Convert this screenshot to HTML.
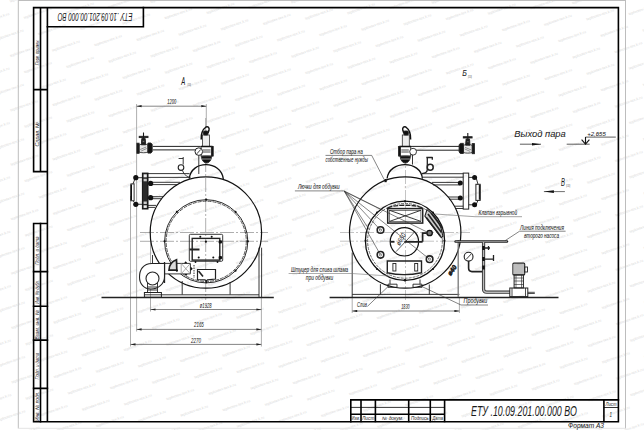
<!DOCTYPE html>
<html><head><meta charset="utf-8">
<style>
html,body{margin:0;padding:0;background:#fff;width:644px;height:430px;overflow:hidden}
svg{display:block}
text{font-family:"Liberation Sans",sans-serif;font-style:italic;fill:#1a1a1a;stroke:#1a1a1a;stroke-width:0.05}
</style></head><body>
<svg width="644" height="430" viewBox="0 0 644 430">
<defs><g id="wm"><text transform="rotate(-19)" x="-14.5" y="1.2" font-size="3.6" textLength="29" lengthAdjust="spacingAndGlyphs" style="fill:#d9d9d9;stroke:none;font-style:normal">teplootex-tex.k.ru</text></g></defs>
<g><use href="#wm" x="-16.6" y="437.4"/><use href="#wm" x="-16.9" y="383.0"/><use href="#wm" x="-2.7" y="399.3"/><use href="#wm" x="11.4" y="415.7"/><use href="#wm" x="25.6" y="432.0"/><use href="#wm" x="-17.1" y="328.5"/><use href="#wm" x="-3.0" y="344.9"/><use href="#wm" x="11.2" y="361.3"/><use href="#wm" x="25.3" y="377.6"/><use href="#wm" x="39.4" y="394.0"/><use href="#wm" x="53.6" y="410.4"/><use href="#wm" x="67.7" y="426.7"/><use href="#wm" x="-17.4" y="274.1"/><use href="#wm" x="-3.2" y="290.5"/><use href="#wm" x="10.9" y="306.9"/><use href="#wm" x="25.0" y="323.2"/><use href="#wm" x="39.2" y="339.6"/><use href="#wm" x="53.3" y="355.9"/><use href="#wm" x="67.5" y="372.3"/><use href="#wm" x="81.6" y="388.7"/><use href="#wm" x="95.7" y="405.0"/><use href="#wm" x="109.9" y="421.4"/><use href="#wm" x="124.0" y="437.8"/><use href="#wm" x="-17.6" y="219.7"/><use href="#wm" x="-3.5" y="236.1"/><use href="#wm" x="10.6" y="252.4"/><use href="#wm" x="24.8" y="268.8"/><use href="#wm" x="38.9" y="285.2"/><use href="#wm" x="53.1" y="301.5"/><use href="#wm" x="67.2" y="317.9"/><use href="#wm" x="81.3" y="334.3"/><use href="#wm" x="95.5" y="350.6"/><use href="#wm" x="109.6" y="367.0"/><use href="#wm" x="123.8" y="383.4"/><use href="#wm" x="137.9" y="399.7"/><use href="#wm" x="152.0" y="416.1"/><use href="#wm" x="166.2" y="432.4"/><use href="#wm" x="-17.9" y="165.3"/><use href="#wm" x="-3.8" y="181.7"/><use href="#wm" x="10.4" y="198.0"/><use href="#wm" x="24.5" y="214.4"/><use href="#wm" x="38.7" y="230.8"/><use href="#wm" x="52.8" y="247.1"/><use href="#wm" x="66.9" y="263.5"/><use href="#wm" x="81.1" y="279.9"/><use href="#wm" x="95.2" y="296.2"/><use href="#wm" x="109.4" y="312.6"/><use href="#wm" x="123.5" y="328.9"/><use href="#wm" x="137.6" y="345.3"/><use href="#wm" x="151.8" y="361.7"/><use href="#wm" x="165.9" y="378.0"/><use href="#wm" x="180.1" y="394.4"/><use href="#wm" x="194.2" y="410.8"/><use href="#wm" x="208.3" y="427.1"/><use href="#wm" x="-18.2" y="110.9"/><use href="#wm" x="-4.0" y="127.3"/><use href="#wm" x="10.1" y="143.6"/><use href="#wm" x="24.3" y="160.0"/><use href="#wm" x="38.4" y="176.3"/><use href="#wm" x="52.5" y="192.7"/><use href="#wm" x="66.7" y="209.1"/><use href="#wm" x="80.8" y="225.4"/><use href="#wm" x="95.0" y="241.8"/><use href="#wm" x="109.1" y="258.2"/><use href="#wm" x="123.2" y="274.5"/><use href="#wm" x="137.4" y="290.9"/><use href="#wm" x="151.5" y="307.3"/><use href="#wm" x="165.7" y="323.6"/><use href="#wm" x="179.8" y="340.0"/><use href="#wm" x="193.9" y="356.4"/><use href="#wm" x="208.1" y="372.7"/><use href="#wm" x="222.2" y="389.1"/><use href="#wm" x="236.4" y="405.4"/><use href="#wm" x="250.5" y="421.8"/><use href="#wm" x="264.6" y="438.2"/><use href="#wm" x="-18.4" y="56.5"/><use href="#wm" x="-4.3" y="72.8"/><use href="#wm" x="9.9" y="89.2"/><use href="#wm" x="24.0" y="105.6"/><use href="#wm" x="38.1" y="121.9"/><use href="#wm" x="52.3" y="138.3"/><use href="#wm" x="66.4" y="154.7"/><use href="#wm" x="80.6" y="171.0"/><use href="#wm" x="94.7" y="187.4"/><use href="#wm" x="108.8" y="203.8"/><use href="#wm" x="123.0" y="220.1"/><use href="#wm" x="137.1" y="236.5"/><use href="#wm" x="151.3" y="252.8"/><use href="#wm" x="165.4" y="269.2"/><use href="#wm" x="179.5" y="285.6"/><use href="#wm" x="193.7" y="301.9"/><use href="#wm" x="207.8" y="318.3"/><use href="#wm" x="222.0" y="334.7"/><use href="#wm" x="236.1" y="351.0"/><use href="#wm" x="250.2" y="367.4"/><use href="#wm" x="264.4" y="383.8"/><use href="#wm" x="278.5" y="400.1"/><use href="#wm" x="292.7" y="416.5"/><use href="#wm" x="306.8" y="432.9"/><use href="#wm" x="-18.7" y="2.1"/><use href="#wm" x="-4.6" y="18.4"/><use href="#wm" x="9.6" y="34.8"/><use href="#wm" x="23.7" y="51.2"/><use href="#wm" x="37.9" y="67.5"/><use href="#wm" x="52.0" y="83.9"/><use href="#wm" x="66.2" y="100.3"/><use href="#wm" x="80.3" y="116.6"/><use href="#wm" x="94.4" y="133.0"/><use href="#wm" x="108.6" y="149.3"/><use href="#wm" x="122.7" y="165.7"/><use href="#wm" x="136.9" y="182.1"/><use href="#wm" x="151.0" y="198.4"/><use href="#wm" x="165.1" y="214.8"/><use href="#wm" x="179.3" y="231.2"/><use href="#wm" x="193.4" y="247.5"/><use href="#wm" x="207.6" y="263.9"/><use href="#wm" x="221.7" y="280.3"/><use href="#wm" x="235.8" y="296.6"/><use href="#wm" x="250.0" y="313.0"/><use href="#wm" x="264.1" y="329.3"/><use href="#wm" x="278.3" y="345.7"/><use href="#wm" x="292.4" y="362.1"/><use href="#wm" x="306.5" y="378.4"/><use href="#wm" x="320.7" y="394.8"/><use href="#wm" x="334.8" y="411.2"/><use href="#wm" x="349.0" y="427.5"/><use href="#wm" x="23.5" y="-3.3"/><use href="#wm" x="37.6" y="13.1"/><use href="#wm" x="51.7" y="29.5"/><use href="#wm" x="65.9" y="45.8"/><use href="#wm" x="80.0" y="62.2"/><use href="#wm" x="94.2" y="78.6"/><use href="#wm" x="108.3" y="94.9"/><use href="#wm" x="122.4" y="111.3"/><use href="#wm" x="136.6" y="127.7"/><use href="#wm" x="150.7" y="144.0"/><use href="#wm" x="164.9" y="160.4"/><use href="#wm" x="179.0" y="176.8"/><use href="#wm" x="193.2" y="193.1"/><use href="#wm" x="207.3" y="209.5"/><use href="#wm" x="221.4" y="225.8"/><use href="#wm" x="235.6" y="242.2"/><use href="#wm" x="249.7" y="258.6"/><use href="#wm" x="263.9" y="274.9"/><use href="#wm" x="278.0" y="291.3"/><use href="#wm" x="292.1" y="307.7"/><use href="#wm" x="306.3" y="324.0"/><use href="#wm" x="320.4" y="340.4"/><use href="#wm" x="334.6" y="356.8"/><use href="#wm" x="348.7" y="373.1"/><use href="#wm" x="362.8" y="389.5"/><use href="#wm" x="377.0" y="405.9"/><use href="#wm" x="391.1" y="422.2"/><use href="#wm" x="405.3" y="438.6"/><use href="#wm" x="65.6" y="-8.6"/><use href="#wm" x="79.8" y="7.8"/><use href="#wm" x="93.9" y="24.2"/><use href="#wm" x="108.0" y="40.5"/><use href="#wm" x="122.2" y="56.9"/><use href="#wm" x="136.3" y="73.2"/><use href="#wm" x="150.5" y="89.6"/><use href="#wm" x="164.6" y="106.0"/><use href="#wm" x="178.7" y="122.3"/><use href="#wm" x="192.9" y="138.7"/><use href="#wm" x="207.0" y="155.1"/><use href="#wm" x="221.2" y="171.4"/><use href="#wm" x="235.3" y="187.8"/><use href="#wm" x="249.4" y="204.2"/><use href="#wm" x="263.6" y="220.5"/><use href="#wm" x="277.7" y="236.9"/><use href="#wm" x="291.9" y="253.3"/><use href="#wm" x="306.0" y="269.6"/><use href="#wm" x="320.2" y="286.0"/><use href="#wm" x="334.3" y="302.3"/><use href="#wm" x="348.4" y="318.7"/><use href="#wm" x="362.6" y="335.1"/><use href="#wm" x="376.7" y="351.4"/><use href="#wm" x="390.9" y="367.8"/><use href="#wm" x="405.0" y="384.2"/><use href="#wm" x="419.1" y="400.5"/><use href="#wm" x="433.3" y="416.9"/><use href="#wm" x="447.4" y="433.3"/><use href="#wm" x="121.9" y="2.5"/><use href="#wm" x="136.1" y="18.8"/><use href="#wm" x="150.2" y="35.2"/><use href="#wm" x="164.3" y="51.6"/><use href="#wm" x="178.5" y="67.9"/><use href="#wm" x="192.6" y="84.3"/><use href="#wm" x="206.8" y="100.7"/><use href="#wm" x="220.9" y="117.0"/><use href="#wm" x="235.0" y="133.4"/><use href="#wm" x="249.2" y="149.7"/><use href="#wm" x="263.3" y="166.1"/><use href="#wm" x="277.5" y="182.5"/><use href="#wm" x="291.6" y="198.8"/><use href="#wm" x="305.7" y="215.2"/><use href="#wm" x="319.9" y="231.6"/><use href="#wm" x="334.0" y="247.9"/><use href="#wm" x="348.2" y="264.3"/><use href="#wm" x="362.3" y="280.7"/><use href="#wm" x="376.4" y="297.0"/><use href="#wm" x="390.6" y="313.4"/><use href="#wm" x="404.7" y="329.8"/><use href="#wm" x="418.9" y="346.1"/><use href="#wm" x="433.0" y="362.5"/><use href="#wm" x="447.2" y="378.8"/><use href="#wm" x="461.3" y="395.2"/><use href="#wm" x="475.4" y="411.6"/><use href="#wm" x="489.6" y="427.9"/><use href="#wm" x="164.1" y="-2.8"/><use href="#wm" x="178.2" y="13.5"/><use href="#wm" x="192.4" y="29.9"/><use href="#wm" x="206.5" y="46.2"/><use href="#wm" x="220.6" y="62.6"/><use href="#wm" x="234.8" y="79.0"/><use href="#wm" x="248.9" y="95.3"/><use href="#wm" x="263.1" y="111.7"/><use href="#wm" x="277.2" y="128.1"/><use href="#wm" x="291.3" y="144.4"/><use href="#wm" x="305.5" y="160.8"/><use href="#wm" x="319.6" y="177.2"/><use href="#wm" x="333.8" y="193.5"/><use href="#wm" x="347.9" y="209.9"/><use href="#wm" x="362.0" y="226.2"/><use href="#wm" x="376.2" y="242.6"/><use href="#wm" x="390.3" y="259.0"/><use href="#wm" x="404.5" y="275.3"/><use href="#wm" x="418.6" y="291.7"/><use href="#wm" x="432.7" y="308.1"/><use href="#wm" x="446.9" y="324.4"/><use href="#wm" x="461.0" y="340.8"/><use href="#wm" x="475.2" y="357.2"/><use href="#wm" x="489.3" y="373.5"/><use href="#wm" x="503.5" y="389.9"/><use href="#wm" x="517.6" y="406.3"/><use href="#wm" x="531.7" y="422.6"/><use href="#wm" x="545.9" y="439.0"/><use href="#wm" x="206.2" y="-8.2"/><use href="#wm" x="220.4" y="8.2"/><use href="#wm" x="234.5" y="24.6"/><use href="#wm" x="248.7" y="40.9"/><use href="#wm" x="262.8" y="57.3"/><use href="#wm" x="276.9" y="73.7"/><use href="#wm" x="291.1" y="90.0"/><use href="#wm" x="305.2" y="106.4"/><use href="#wm" x="319.4" y="122.7"/><use href="#wm" x="333.5" y="139.1"/><use href="#wm" x="347.6" y="155.5"/><use href="#wm" x="361.8" y="171.8"/><use href="#wm" x="375.9" y="188.2"/><use href="#wm" x="390.1" y="204.6"/><use href="#wm" x="404.2" y="220.9"/><use href="#wm" x="418.3" y="237.3"/><use href="#wm" x="432.5" y="253.7"/><use href="#wm" x="446.6" y="270.0"/><use href="#wm" x="460.8" y="286.4"/><use href="#wm" x="474.9" y="302.8"/><use href="#wm" x="489.0" y="319.1"/><use href="#wm" x="503.2" y="335.5"/><use href="#wm" x="517.3" y="351.8"/><use href="#wm" x="531.5" y="368.2"/><use href="#wm" x="545.6" y="384.6"/><use href="#wm" x="559.7" y="400.9"/><use href="#wm" x="573.9" y="417.3"/><use href="#wm" x="588.0" y="433.7"/><use href="#wm" x="262.5" y="2.9"/><use href="#wm" x="276.7" y="19.2"/><use href="#wm" x="290.8" y="35.6"/><use href="#wm" x="305.0" y="52.0"/><use href="#wm" x="319.1" y="68.3"/><use href="#wm" x="333.2" y="84.7"/><use href="#wm" x="347.4" y="101.1"/><use href="#wm" x="361.5" y="117.4"/><use href="#wm" x="375.7" y="133.8"/><use href="#wm" x="389.8" y="150.2"/><use href="#wm" x="403.9" y="166.5"/><use href="#wm" x="418.1" y="182.9"/><use href="#wm" x="432.2" y="199.2"/><use href="#wm" x="446.4" y="215.6"/><use href="#wm" x="460.5" y="232.0"/><use href="#wm" x="474.6" y="248.3"/><use href="#wm" x="488.8" y="264.7"/><use href="#wm" x="502.9" y="281.1"/><use href="#wm" x="517.1" y="297.4"/><use href="#wm" x="531.2" y="313.8"/><use href="#wm" x="545.3" y="330.2"/><use href="#wm" x="559.5" y="346.5"/><use href="#wm" x="573.6" y="362.9"/><use href="#wm" x="587.8" y="379.3"/><use href="#wm" x="601.9" y="395.6"/><use href="#wm" x="616.0" y="412.0"/><use href="#wm" x="630.2" y="428.3"/><use href="#wm" x="304.7" y="-2.4"/><use href="#wm" x="318.8" y="13.9"/><use href="#wm" x="333.0" y="30.3"/><use href="#wm" x="347.1" y="46.6"/><use href="#wm" x="361.3" y="63.0"/><use href="#wm" x="375.4" y="79.4"/><use href="#wm" x="389.5" y="95.7"/><use href="#wm" x="403.7" y="112.1"/><use href="#wm" x="417.8" y="128.5"/><use href="#wm" x="432.0" y="144.8"/><use href="#wm" x="446.1" y="161.2"/><use href="#wm" x="460.2" y="177.6"/><use href="#wm" x="474.4" y="193.9"/><use href="#wm" x="488.5" y="210.3"/><use href="#wm" x="502.7" y="226.7"/><use href="#wm" x="516.8" y="243.0"/><use href="#wm" x="530.9" y="259.4"/><use href="#wm" x="545.1" y="275.7"/><use href="#wm" x="559.2" y="292.1"/><use href="#wm" x="573.4" y="308.5"/><use href="#wm" x="587.5" y="324.8"/><use href="#wm" x="601.6" y="341.2"/><use href="#wm" x="615.8" y="357.6"/><use href="#wm" x="629.9" y="373.9"/><use href="#wm" x="644.1" y="390.3"/><use href="#wm" x="658.2" y="406.7"/><use href="#wm" x="346.9" y="-7.8"/><use href="#wm" x="361.0" y="8.6"/><use href="#wm" x="375.1" y="25.0"/><use href="#wm" x="389.3" y="41.3"/><use href="#wm" x="403.4" y="57.7"/><use href="#wm" x="417.6" y="74.1"/><use href="#wm" x="431.7" y="90.4"/><use href="#wm" x="445.8" y="106.8"/><use href="#wm" x="460.0" y="123.2"/><use href="#wm" x="474.1" y="139.5"/><use href="#wm" x="488.3" y="155.9"/><use href="#wm" x="502.4" y="172.2"/><use href="#wm" x="516.5" y="188.6"/><use href="#wm" x="530.7" y="205.0"/><use href="#wm" x="544.8" y="221.3"/><use href="#wm" x="559.0" y="237.7"/><use href="#wm" x="573.1" y="254.1"/><use href="#wm" x="587.2" y="270.4"/><use href="#wm" x="601.4" y="286.8"/><use href="#wm" x="615.5" y="303.2"/><use href="#wm" x="629.7" y="319.5"/><use href="#wm" x="643.8" y="335.9"/><use href="#wm" x="657.9" y="352.2"/><use href="#wm" x="403.2" y="3.3"/><use href="#wm" x="417.3" y="19.6"/><use href="#wm" x="431.4" y="36.0"/><use href="#wm" x="445.6" y="52.4"/><use href="#wm" x="459.7" y="68.7"/><use href="#wm" x="473.9" y="85.1"/><use href="#wm" x="488.0" y="101.5"/><use href="#wm" x="502.1" y="117.8"/><use href="#wm" x="516.3" y="134.2"/><use href="#wm" x="530.4" y="150.6"/><use href="#wm" x="544.6" y="166.9"/><use href="#wm" x="558.7" y="183.3"/><use href="#wm" x="572.8" y="199.7"/><use href="#wm" x="587.0" y="216.0"/><use href="#wm" x="601.1" y="232.4"/><use href="#wm" x="615.3" y="248.7"/><use href="#wm" x="629.4" y="265.1"/><use href="#wm" x="643.5" y="281.5"/><use href="#wm" x="657.7" y="297.8"/><use href="#wm" x="445.3" y="-2.0"/><use href="#wm" x="459.5" y="14.3"/><use href="#wm" x="473.6" y="30.7"/><use href="#wm" x="487.7" y="47.1"/><use href="#wm" x="501.9" y="63.4"/><use href="#wm" x="516.0" y="79.8"/><use href="#wm" x="530.2" y="96.1"/><use href="#wm" x="544.3" y="112.5"/><use href="#wm" x="558.4" y="128.9"/><use href="#wm" x="572.6" y="145.2"/><use href="#wm" x="586.7" y="161.6"/><use href="#wm" x="600.9" y="178.0"/><use href="#wm" x="615.0" y="194.3"/><use href="#wm" x="629.1" y="210.7"/><use href="#wm" x="643.3" y="227.1"/><use href="#wm" x="657.4" y="243.4"/><use href="#wm" x="487.5" y="-7.4"/><use href="#wm" x="501.6" y="9.0"/><use href="#wm" x="515.8" y="25.4"/><use href="#wm" x="529.9" y="41.7"/><use href="#wm" x="544.0" y="58.1"/><use href="#wm" x="558.2" y="74.5"/><use href="#wm" x="572.3" y="90.8"/><use href="#wm" x="586.5" y="107.2"/><use href="#wm" x="600.6" y="123.6"/><use href="#wm" x="614.7" y="139.9"/><use href="#wm" x="628.9" y="156.3"/><use href="#wm" x="643.0" y="172.6"/><use href="#wm" x="657.2" y="189.0"/><use href="#wm" x="543.8" y="3.7"/><use href="#wm" x="557.9" y="20.1"/><use href="#wm" x="572.1" y="36.4"/><use href="#wm" x="586.2" y="52.8"/><use href="#wm" x="600.3" y="69.1"/><use href="#wm" x="614.5" y="85.5"/><use href="#wm" x="628.6" y="101.9"/><use href="#wm" x="642.8" y="118.2"/><use href="#wm" x="656.9" y="134.6"/><use href="#wm" x="585.9" y="-1.6"/><use href="#wm" x="600.1" y="14.7"/><use href="#wm" x="614.2" y="31.1"/><use href="#wm" x="628.4" y="47.5"/><use href="#wm" x="642.5" y="63.8"/><use href="#wm" x="656.6" y="80.2"/><use href="#wm" x="628.1" y="-7.0"/><use href="#wm" x="642.2" y="9.4"/><use href="#wm" x="656.4" y="25.8"/></g>
<!-- outer sheet border -->
<g fill="none" stroke="#bdbdbd" stroke-width="1">
<path d="M18.3,0 V428.5 M625.5,0 V428.5"/>
<path d="M18.5,428.3 H625.5" stroke="#e4e4e4"/>
<path d="M18.5,0.5 H625.5"/>
</g>
<!-- frame -->
<g fill="none" stroke="#000" stroke-width="1.6" stroke-linecap="square">
<path d="M47.4,7.6 H618.4 V421.7 H33.6 V223.5 H47.4 M47.4,7.6 V421.7 M33.6,7.6 H47.4 M33.6,7.6 V171.6 H47.4 M40.5,7.6 V171.6 M33.6,89.6 H47.4"/>
<path d="M40.5,223.5 V421.7 M33.6,271.6 H47.4 M33.6,306.2 H47.4 M33.6,340.1 H47.4 M33.6,388.4 H47.4"/>
<path d="M47.4,26.7 H143.4 V7.6"/>
<!-- title block -->
<path d="M350.8,421.7 V399.9 H618.4 M361,399.9 V421.5 M375.4,399.9 V421.5 M408.7,399.9 V421.5 M430.3,399.9 V421.5 M444.6,399.9 V421.5 M350.8,414.2 H444.6 M603.9,399.9 V421.5"/>
</g>
<g fill="none" stroke="#000" stroke-width="0.8">
<path d="M350.8,407.4 H444.6 M603.9,407.5 H618.4"/>
</g>

<defs>
<g id="gv">
<!-- globe valve: pipe side at x=0, body extends to negative x; y=0 pipe center -->
<path d="M-13.3,-3 C-11,-4.2 -6,-4.2 -4.2,-3 V4 C-6,5 -11,5 -13.3,4 Z" fill="#e6e6e6" stroke="#222" stroke-width="0.8"/>
<path d="M-12,1.5 L-6,-1 M-11,3 L-5.5,0.5" stroke="#555" stroke-width="0.6"/>
<rect x="-15.3" y="-4.8" width="2.2" height="10.1" fill="#1a1a1a"/>
<path d="M-4.3,-5 H-1.2 L0,-3.5 V3.5 L-1.2,5.1 H-4.3 Z" fill="#111"/>
<path d="M-10.9,-3.2 L-10.4,-9.5 H-7 L-6.5,-3.2 Z" fill="#1c1c1c"/>
<rect x="-10" y="-7.2" width="2.6" height="1.3" fill="#ddd"/>
<rect x="-13" y="-11.7" width="8.8" height="1.3" fill="#1a1a1a"/>
<path d="M-8.7,-15.5 V-9.5" stroke="#1a1a1a" stroke-width="1.1"/>
</g>
<g id="sv">
<!-- safety valve: origin at body left top (x=202.5,y=146.5 for left view) -->
<rect x="0" y="-11.5" width="7" height="11.5" fill="#eee" stroke="#333" stroke-width="0.8"/>
<path d="M-1.3,-7 C-1.5,-12 0,-17 3.5,-19.5 C5.5,-20.5 7,-19 6.5,-16.5 L5.5,-13.5" fill="none" stroke="#111" stroke-width="1.5"/>
<rect x="1" y="-15.5" width="4.5" height="4" rx="1" fill="#111"/>
<rect x="-1.5" y="0" width="11.5" height="9.5" fill="#fff" stroke="#222" stroke-width="0.9"/>
<path d="M-1.5,0 H10" stroke="#111" stroke-width="1.5"/>
<rect x="8.9" y="0" width="1.8" height="9.5" fill="#111"/>
<path d="M0.5,3.5 H8 M0.5,5.5 H8" stroke="#333" stroke-width="0.9"/>
<path d="M-1,10 C1,9.5 7,9.5 9,10 C9,13 7,16.5 4,16.5 C1,16.5 -1,13 -1,10 Z" fill="#111"/>
<path d="M-0.5,12.5 H8.5" stroke="#eee" stroke-width="0.6"/>
</g>
</defs>
<!-- ===== LEFT VIEW A ===== -->
<g fill="none" stroke="#999" stroke-width="0.8">
<path d="M130.5,196 V346.5 M136.6,104 V331.5 M150.5,228 V311.5 M261.4,297 V346.5 M206.3,104 V127"/>
<path d="M205.7,118 V300" stroke-dasharray="14,2,2,2"/>
<path d="M140,232.5 H268 M140,241.3 H268" stroke-dasharray="14,2,2,2"/>
</g>
<!-- dims -->
<g stroke="#666" stroke-width="0.8" fill="none">
<path d="M136.6,106.2 H206.3 M150.5,309.5 H261.4 M136.6,329.4 H261.4 M130.5,344.4 H261.4"/>
</g>
<g fill="#222" stroke="none">
<path d="M136.6,106.2 l5,-1.1 v2.2z M206.3,106.2 l-5,-1.1 v2.2z"/>
<path d="M150.5,309.5 l5,-1.1 v2.2z M261.4,309.5 l-5,-1.1 v2.2z"/>
<path d="M136.6,329.4 l5,-1.1 v2.2z M261.4,329.4 l-5,-1.1 v2.2z"/>
<path d="M130.5,344.4 l5,-1.1 v2.2z M261.4,344.4 l-5,-1.1 v2.2z"/>
</g>
<!-- main shell -->
<g fill="none" stroke="#111">
<circle cx="205.9" cy="232.5" r="55.7" stroke-width="1.2"/>
<circle cx="206.2" cy="241.3" r="41.6" stroke-width="0.9"/>
<circle cx="206.2" cy="241.3" r="40.1" stroke-width="0.7" stroke-dasharray="4,1"/>
<path d="M189.3,178.6 C191,160 221,160 223.3,179" stroke-width="1.3"/>
</g>
<!-- ground / frame -->
<g fill="none" stroke="#222">
<path d="M101.5,297.5 H273.8" stroke-width="1.3"/>
<path d="M144.4,294.8 H259" stroke-width="0.9"/>
<path d="M259,247.7 V297 M261.6,247.7 V297" stroke-width="0.9"/>
<path d="M182.2,281 V294.6 M230.1,282 V294.6" stroke-width="0.9"/>
<rect x="144.4" y="292.5" width="17" height="4.8" stroke-width="1"/>
</g>

<!-- left view details -->
<g fill="none" stroke="#222" stroke-width="0.9">
<!-- steam pipe -->
<path d="M152.8,146.4 H200.7 M152.8,149.9 H196" stroke-width="1"/>
<!-- valves (use) -->
<use href="#gv" x="152.2" y="148"/>
<use href="#sv" x="202.5" y="146.5"/>
<circle cx="198.8" cy="151.6" r="3.8" fill="#fff" stroke-width="1"/>
<path d="M196.8,153.8 L200.8,149.4"/>
<path d="M198.8,155.4 V174"/>
<!-- siphon + small gauge -->
<path d="M178.6,158.5 H183.2 M183.2,157 V164.5 M182.5,170.4 C184,175 187,176.5 190,177.5"/>
<circle cx="181" cy="167.6" r="2.8" stroke-width="1.1"/>
<!-- pipes to water column -->
<path d="M148,173.6 H189.6 M148,177.4 H190.5 M150,182.3 H180 M150,184.6 H177 M150,196.7 H163 M150,198.7 H162 M148,205.4 H156 M148,207.4 H155"/>
<!-- gauge glass links -->
<rect x="130.9" y="183.9" width="3.2" height="16.9" stroke-width="0.9"/>
<path d="M133,183.9 L134.5,180 M133,200.8 L134.5,202.5 M135.8,177.7 H142.4 M135.8,204.3 H142.4"/>
<!-- door -->
<rect x="189.3" y="234.3" width="33.4" height="27" rx="1.2"/>
<rect x="192.2" y="238.4" width="27.6" height="21.7" stroke-width="1.4"/>
<path d="M189.6,249.5 H199.5" stroke-width="2"/>
<!-- burner pipe -->
<rect x="164.5" y="263.4" width="25.9" height="10.5" fill="#fff" stroke="none"/>
<path d="M160,263.4 H190.4 M164.5,273.9 H190.4 M190.4,263.4 V273.9"/>
<path d="M181.2,263.4 V273.9 M181.2,263.4 L190.4,273.9 M190.4,263.4 L181.2,273.9" stroke="#888" stroke-width="0.7"/>
<path d="M169,270.2 C169,265.5 172,261.5 176.5,259.8 L176.8,270.2 Z" fill="#ddd" stroke-width="1.7"/>
<path d="M184,263.3 L185.7,261.3 L187.4,263.3 Z M190.5,266.5 L192.8,268.8 L190.5,271 Z M184.5,274 L186,276 L187.5,274 Z" fill="#111" stroke="none"/>
<path d="M164.5,262 V283" stroke-width="1.3"/>
<path d="M194,265 V278" stroke-dasharray="1.5,1"/>
<!-- ash door -->
<path d="M197.5,269.5 H215.5 V279 L207.5,279.8 L206.3,281 L205,279.8 L197.5,279.5 Z" stroke-width="1.2" fill="#fff"/>
<path d="M198.5,271 L203,276.5" stroke-width="1.6"/>
<!-- fan -->
<path d="M164.5,263.5 H152 C143,263.5 139.5,270 139.5,277 C139.5,284 144,289 151,289 C158,289 164.5,284 164.5,277 Z" stroke-width="1.1" fill="#fff"/>
<circle cx="152.5" cy="278.5" r="6.5" stroke-width="1.1"/>
<path d="M147.5,283 V292.5 M157.5,283 V292.5 M148,287 H157 M148,290 H157"/>
<path d="M152.5,255 V263.5"/>
</g>
<g fill="#111" stroke="none">
<circle cx="135.8" cy="177.7" r="2.6"/><circle cx="135.8" cy="204.3" r="2.6"/>
<circle cx="150.6" cy="183.4" r="2.6"/><circle cx="150.6" cy="197.7" r="2.6"/>
<rect x="142.4" y="173.1" width="5.6" height="35.9" fill="#2a2a2a" stroke="#111" stroke-width="1"/>
<rect x="143.6" y="174.3" width="3.2" height="3" fill="#eee"/><rect x="143.6" y="178.8" width="3.2" height="2.5" fill="#ccc"/><rect x="143.6" y="201.5" width="3.2" height="2.5" fill="#ccc"/><rect x="143.6" y="205.3" width="3.2" height="2.6" fill="#eee"/>
<rect x="130.5" y="184.5" width="1.5" height="15.8"/>
<circle cx="200.3" cy="236.8" r="1"/><circle cx="211.7" cy="236.8" r="1"/><circle cx="205.9" cy="241.7" r="1.1"/>
<circle cx="198.7" cy="257.4" r="1"/><circle cx="213.3" cy="257.4" r="1"/>
<rect x="218.6" y="240.3" width="3.4" height="3.2" rx="1"/><rect x="218.6" y="256.1" width="3.4" height="3.2" rx="1"/>
<circle cx="195.5" cy="262" r="0.9"/><circle cx="217.5" cy="262" r="0.9"/>
<circle cx="206.3" cy="282.2" r="1"/>
</g>
<!-- bolts on inner circle -->
<g fill="#111">
<circle cx="206.2" cy="199.7" r="1.1"/><circle cx="235.5" cy="211.9" r="1.1"/><circle cx="247.8" cy="241.3" r="1.1"/>
<circle cx="235.5" cy="270.7" r="1.1"/><circle cx="176.9" cy="211.9" r="1.1"/><circle cx="164.6" cy="241.3" r="1.1"/><circle cx="176.9" cy="270.7" r="1.1"/>
</g>

<!-- ===== RIGHT VIEW B ===== -->
<g fill="none" stroke="#aaa" stroke-width="0.7">
<path d="M405.5,150 V300" stroke-dasharray="14,2,2,2"/>
<path d="M340,232.5 H470 M340,241.2 H470" stroke-dasharray="14,2,2,2"/>
<path d="M352.2,297 V313 M459.4,297 V313" stroke="#999" stroke-width="0.8"/>
</g>
<g fill="none" stroke="#111">
<circle cx="405.2" cy="232.5" r="55.7" stroke-width="1.2"/>
<circle cx="405" cy="240.8" r="39.6" stroke-width="1.3"/>
<circle cx="405" cy="240.8" r="37.4" stroke-width="0.6" stroke-dasharray="3,1"/>
<path d="M387.1,178.5 C389,160 421,160 422.4,178.6" stroke-width="1.3"/>
<circle cx="404.4" cy="241.8" r="14.2" stroke-width="1.2"/>
</g>
<g fill="none" stroke="#222" stroke-width="0.9">
<!-- ground / supports -->
<path d="M329.6,297.5 H558.5" stroke-width="1.3"/>
<path d="M352.2,294.4 H459.4" stroke-width="0.9"/>
<path d="M352.2,252.5 V297 M380.4,284.2 V294.4 M429.3,284.5 V294.4"/>
<path d="M458.2,240 V297" stroke="#777" stroke-width="1.3"/>
<path d="M352.2,311 H459.4" stroke="#666" stroke-width="0.8"/>
<!-- steam pipe & valves -->
<path d="M410.2,146.4 H459.1 M410.2,150.2 H459.1" stroke-width="1"/>
<g transform="translate(409.3 146.5) scale(-1 1)"><use href="#sv"/></g>
<circle cx="413.1" cy="151.7" r="3.4" fill="#fff"/>
<path d="M412.5,155 V164.5"/>
<g transform="translate(459.1 148.4) scale(-1 1)"><use href="#gv"/></g>
<!-- siphon B -->
<path d="M426.3,157.5 H432.5 M432.3,157 V159.8 M427.3,157.3 V169.5 C427.3,171.8 425.5,173.3 422,173.6" stroke-width="1.3"/>
<circle cx="430.2" cy="167.3" r="3" stroke-width="1.5"/>
<!-- pipes to column -->
<path d="M421.5,173.7 H463.2 M422.4,177.2 H463.2 M432,182.4 H460 M433,184.9 H460 M448,197 H460 M449,199.2 H460 M455,206.2 H463.2 M456,208.5 H463.2"/>
<rect x="463.2" y="173.1" width="5.5" height="36" stroke-width="1"/>
<rect x="475.9" y="184.3" width="4.3" height="16.1" stroke-width="1"/>
<path d="M479.6,185 V199.7" stroke-width="1.6"/>
<path d="M478,184.3 L476,177.4 H468.7 M478,200.4 L476,204.8 H468.7"/>
<!-- X box -->
<rect x="387.7" y="208.6" width="35" height="14.5" stroke-width="1.5"/>
<rect x="389.5" y="210.3" width="31.4" height="11.1" stroke-width="0.6"/>
<path d="M389.5,210.3 L420.9,221.4 M420.9,210.3 L389.5,221.4" stroke-width="0.9"/>
<path d="M387.7,208 C395,204.3 415,204.3 422.7,208" stroke-width="1.3" stroke-dasharray="5,1"/>
<!-- explosion valve hatch -->
<path d="M427,209.6 A38,38 0 0 1 442.9,236.2 L441.3,237.6 L424.9,216.2 Z" stroke-width="1.1" fill="#ccc"/>
<path d="M428,214 L441.5,232.5 M431,213 L442.8,228.5 M426.3,217.5 L440.3,236" stroke-width="1.6"/>
<!-- handle -->
<path d="M426.7,233.1 H422.6 V241.8 M404.4,241.8 H422.6" stroke-width="1.7"/>
<path d="M390.4,241.8 H394.5" stroke-width="1.8"/>
<path d="M414.7,231.8 L396,251.7" stroke-width="0.7"/>
<!-- bottom box -->
<path d="M387.3,261 H421.5 V272.8 C411,275 397,275 387.3,272.8 Z" stroke-width="1.4"/>
<rect x="392.9" y="263.5" width="3" height="7.5" stroke-width="0.9"/>
<rect x="414.7" y="263.5" width="3" height="7.5" stroke-width="0.9"/>
<path d="M388,284.2 H397 V287.3 H388 Z M413,284.2 H422 V287.3 H413 Z M390,279.5 V284.2 M420,279.5 V284.2"/>
<!-- peepholes -->
<circle cx="380.5" cy="230" r="3.3" stroke-width="1.6"/>
<circle cx="380.5" cy="254.8" r="3.3" stroke-width="1.6"/>
<circle cx="429.6" cy="259.2" r="3.3" stroke-width="1.6"/>
<circle cx="380.5" cy="230" r="1.2" stroke-width="0.5"/>
<circle cx="380.5" cy="254.8" r="1.2" stroke-width="0.5"/>
<circle cx="429.6" cy="259.2" r="1.2" stroke-width="0.5"/>
<!-- pump pipe system -->
<path d="M455.5,241.5 H507" stroke="#222" stroke-width="2.4" stroke-linecap="round"/>
<path d="M455.5,241.5 H507" stroke="#ccc" stroke-width="0.6"/>
<path d="M483.55,242 V289 Q483.55,292.2 486.8,292.2 H510" stroke="#333" stroke-width="3.2"/>
<path d="M483.55,242 V289 Q483.55,292.2 486.8,292.2 H510" stroke="#bbb" stroke-width="1.4"/>
<circle cx="468.6" cy="256.7" r="4.4" stroke-width="1.1"/>
<path d="M466,259.5 L471.2,254" stroke-width="0.9"/>
<path d="M468.6,261.1 V268 Q468.6,271.6 472,271.6 H482.3" stroke-width="1.6"/>
<path d="M484.8,248 H490 M488.5,246 V250 M484.8,259.2 H494 M493.5,255 V261" stroke-width="1.3"/>
<!-- pump -->
<rect x="512.9" y="263.1" width="11.8" height="11.8" rx="1" stroke-width="1.1"/>
<path d="M515,264 V274 M517,264 V274 M519,264 V274 M521,264 V274 M523,264 V274" stroke-width="0.6"/>
<rect x="524.7" y="267" width="2.8" height="5"/>
<rect x="514.1" y="274.9" width="9.3" height="13" stroke-width="1"/>
<path d="M514.1,278 H523.4 M514.1,281 H523.4 M514.1,284.5 H523.4 M516,275 V288 M521.5,275 V288" stroke-width="0.6"/>
<rect x="509.8" y="288" width="18" height="8.6" stroke-width="1"/>
<path d="M512,288 V296.6 M525.5,288 V296.6 M527.8,292.3 H534.8 M527.8,293.5 H534.8" stroke-width="0.8"/>
</g>
<g fill="#111" stroke="none">
<circle cx="474.6" cy="177.4" r="2.5"/><circle cx="474.6" cy="204.8" r="2.5"/>
<circle cx="460.3" cy="183" r="2.5"/><circle cx="460.3" cy="197.9" r="2.5"/>
<circle cx="429.6" cy="233" r="2.7" fill="#777" stroke="#111" stroke-width="1.3"/>
<rect x="384.5" y="179" width="2.2" height="3.2"/>
<circle cx="405" cy="201.3" r="1.1"/><circle cx="405" cy="280.3" r="1.3"/>
<circle cx="377" cy="212.5" r="1"/><circle cx="433" cy="212.5" r="1"/>
<circle cx="365.6" cy="240.8" r="1"/><circle cx="444.4" cy="240.8" r="1"/>
<circle cx="377" cy="269" r="1"/><circle cx="433" cy="269" r="1"/>
<rect x="482.3" y="246" width="2.5" height="4"/><rect x="482.3" y="257" width="2.5" height="4"/>
<rect x="482.3" y="265.5" width="2.5" height="4"/>
</g>
<!-- ===== TEXTS ===== -->
<g transform="translate(38.7 65.2) rotate(-90)"><text style="stroke-width:0" x="0" y="0" font-size="5.4" textLength="25.6" lengthAdjust="spacingAndGlyphs">Перв. примен.</text></g>
<g transform="translate(38.7 146.4) rotate(-90)"><text style="stroke-width:0" x="0" y="0" font-size="5.4" textLength="24.3" lengthAdjust="spacingAndGlyphs">Справ. №</text></g>
<g transform="translate(38.7 264.8) rotate(-90)"><text style="stroke-width:0" x="0" y="0" font-size="5.4" textLength="28.2" lengthAdjust="spacingAndGlyphs">Подп. и дата</text></g>
<g transform="translate(38.7 303.8) rotate(-90)"><text style="stroke-width:0" x="0" y="0" font-size="5.4" textLength="23.6" lengthAdjust="spacingAndGlyphs">Инв. № дубл.</text></g>
<g transform="translate(38.7 339.6) rotate(-90)"><text style="stroke-width:0" x="0" y="0" font-size="5.4" textLength="29.7" lengthAdjust="spacingAndGlyphs">Взам. инв. №</text></g>
<g transform="translate(38.7 379.5) rotate(-90)"><text style="stroke-width:0" x="0" y="0" font-size="5.4" textLength="26.7" lengthAdjust="spacingAndGlyphs">Подп. и дата</text></g>
<g transform="translate(38.7 421) rotate(-90)"><text style="stroke-width:0" x="0" y="0" font-size="5.4" textLength="29.6" lengthAdjust="spacingAndGlyphs">Инв. № подл.</text></g>

<g transform="translate(451.4 271) rotate(-55)"><text x="-4.6" y="2.3" font-size="6.6" textLength="11" lengthAdjust="spacingAndGlyphs" style="font-weight:bold;stroke-width:0.5">ø40</text></g>

<g transform="translate(400.8 239.2) rotate(-60)"><text x="-6.5" y="2.4" font-size="6.8" textLength="13" lengthAdjust="spacingAndGlyphs">ø650</text></g>

<g>
<g transform="rotate(180 95.10 16.75)"><text x="57.7" y="20.5" font-size="10.2" textLength="74.8" lengthAdjust="spacingAndGlyphs">ЕТУ .10.09.201.00.000  ВО</text>
</g>
<text style="stroke-width:0" x="471" y="416" font-size="14" textLength="105.8" lengthAdjust="spacingAndGlyphs">ЕТУ .10.09.201.00.000  ВО</text>
<text x="181.3" y="84.9" font-size="10" textLength="4.0" lengthAdjust="spacingAndGlyphs">А</text>
<text style="stroke-width:0" x="187.6" y="85.8" font-size="4.4" textLength="3.4" lengthAdjust="spacingAndGlyphs">(1:10)</text>
<text x="167.3" y="104.2" font-size="6.5" textLength="9.0" lengthAdjust="spacingAndGlyphs">1200</text>
<text x="199.8" y="308" font-size="6.6" textLength="11.8" lengthAdjust="spacingAndGlyphs">ø1928</text>
<text x="194" y="327.2" font-size="7.3" textLength="9.8" lengthAdjust="spacingAndGlyphs">2165</text>
<text x="191" y="342.6" font-size="7.3" textLength="10.0" lengthAdjust="spacingAndGlyphs">2270</text>
<text x="462.3" y="75.9" font-size="9.8" textLength="4.6" lengthAdjust="spacingAndGlyphs">Б</text>
<text style="stroke-width:0" x="467.9" y="77.8" font-size="4.4" textLength="3.8" lengthAdjust="spacingAndGlyphs">(1:10)</text>
<text x="514.3" y="136.8" font-size="9.6" textLength="51.5" lengthAdjust="spacingAndGlyphs">Выход пара</text>
<text x="587.2" y="135.6" font-size="6" textLength="18.6" lengthAdjust="spacingAndGlyphs">+2,655</text>
<text x="561" y="185.7" font-size="10.7" textLength="3.9" lengthAdjust="spacingAndGlyphs">В</text>
<text style="stroke-width:0" x="566.3" y="186.8" font-size="4.4" textLength="3.9" lengthAdjust="spacingAndGlyphs">(1:10)</text>
<text x="329.9" y="154.2" font-size="6.8" textLength="32.8" lengthAdjust="spacingAndGlyphs">Отбор пара на</text>
<text x="325.5" y="162.4" font-size="6.8" textLength="42.4" lengthAdjust="spacingAndGlyphs">собственные нужды</text>
<text x="297.9" y="189.2" font-size="6.8" textLength="41.7" lengthAdjust="spacingAndGlyphs">Лючки для обдувки</text>
<text x="290.9" y="271.6" font-size="6.8" textLength="57.3" lengthAdjust="spacingAndGlyphs">Штуцер для слива шлама</text>
<text x="305.8" y="280.2" font-size="6.8" textLength="27.5" lengthAdjust="spacingAndGlyphs">при обдувки</text>
<text x="478.6" y="214.7" font-size="6.8" textLength="38.5" lengthAdjust="spacingAndGlyphs">Клапан взрывной</text>
<text x="520" y="230" font-size="6.8" textLength="44.0" lengthAdjust="spacingAndGlyphs">Линия подключения</text>
<text x="524" y="238" font-size="6.8" textLength="35.0" lengthAdjust="spacingAndGlyphs">второго насоса</text>
<text x="357" y="306.5" font-size="6.8" textLength="9.9" lengthAdjust="spacingAndGlyphs">Слив</text>
<text x="401.2" y="309.1" font-size="6.8" textLength="8.4" lengthAdjust="spacingAndGlyphs">1830</text>
<text x="463.6" y="303.2" font-size="6.8" textLength="23.7" lengthAdjust="spacingAndGlyphs">Продувки</text>
<text x="568" y="428.2" font-size="6.5" textLength="36.0" lengthAdjust="spacingAndGlyphs">Формат А3</text>
<text style="stroke-width:0" x="605.5" y="405.8" font-size="4.8" textLength="11.0" lengthAdjust="spacingAndGlyphs">Лист</text>
<text x="609.5" y="416.5" font-size="7" textLength="2.5" lengthAdjust="spacingAndGlyphs">1</text>
<text style="stroke-width:0" x="351.5" y="419.8" font-size="4.6" textLength="8.5" lengthAdjust="spacingAndGlyphs">Изм.</text>
<text style="stroke-width:0" x="362" y="419.8" font-size="4.6" textLength="12.5" lengthAdjust="spacingAndGlyphs">Лист</text>
<text style="stroke-width:0" x="382" y="419.8" font-size="4.6" textLength="21.5" lengthAdjust="spacingAndGlyphs">№ докум.</text>
<text style="stroke-width:0" x="411" y="419.8" font-size="4.6" textLength="17.5" lengthAdjust="spacingAndGlyphs">Подпись</text>
<text style="stroke-width:0" x="432.5" y="419.8" font-size="4.6" textLength="10.5" lengthAdjust="spacingAndGlyphs">Дата</text>
</g>
<g fill="none" stroke="#333" stroke-width="0.6">
<path d="M325.5,155.4 H371.7 L384.2,179.6"/>
<path d="M294.9,190.9 H344.3 M344.3,191.2 L382.9,210.5 M344.3,191.2 L428,232.5 M344.3,191.2 L429.6,259.2 M344.3,191.2 L380.5,230 M344.3,191.2 L369.2,229.7 M344.3,191.2 L380.5,254.8"/>
<path d="M288.6,273.5 H352 L388.9,276" stroke="#777"/>
<path d="M475,216.7 H522 M475,216.7 L435,214" stroke="#666"/>
<path d="M519.6,231.2 H565.6 M519.6,231.2 L505.2,240.6"/>
<path d="M367.4,306.4 L388.9,285.8"/>
<path d="M461,305 H488 M461,305 L420.8,286"/>
<path d="M519.9,144.2 H541 M566.7,144.2 H589.7 M585.5,137.1 H615.8" stroke-width="0.8"/>
<path d="M585.5,137.1 V144.2 M581.6,139.6 L585.5,144.2 L589.4,139.6" stroke-width="1.1" stroke="#111"/>
<path d="M543.9,191.6 H564.9" stroke-width="0.7"/>
</g>
<g fill="#111">
<path d="M541,144.2 l-9,-1.2 v2.4z M543.9,191.6 l10,-1.3 v2.6z M352.2,311 l5,-1.1 v2.2z M459.4,311 l-5,-1.1 v2.2z"/>
</g>
</svg>
</body></html>
